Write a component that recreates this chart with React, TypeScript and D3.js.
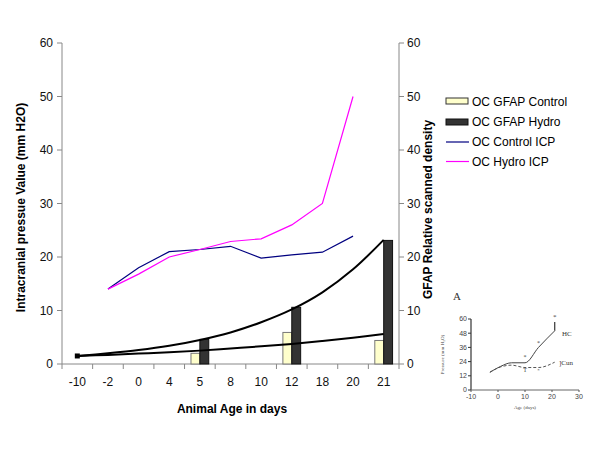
import React from 'react';
import * as d3 from 'd3';

const categories = ['-10', '-2', '0', '4', '5', '8', '10', '12', '18', '20', '21'];
const gfapControl: (number | null)[] = [null, null, null, null, 2.0, null, null, 5.9, null, null, 4.4];
const gfapHydro: (number | null)[] = [null, null, null, null, 4.6, null, null, 10.6, null, null, 23.1];
const controlICP: (number | null)[] = [null, 14, 18, 21, 21.4, 22, 19.8, 20.4, 20.9, 23.9, null];
const hydroICP: (number | null)[] = [null, 14, 16.8, 20, 21.4, 22.9, 23.4, 26, 30, 50, null];
const trendHydro = [1.5, 2.0, 2.6, 3.4, 4.5, 5.9, 7.8, 10.2, 13.4, 17.7, 23.2];
const trendControl = [1.5, 1.7, 1.95, 2.2, 2.5, 2.9, 3.3, 3.75, 4.3, 4.9, 5.6];
const yTicks = [0, 10, 20, 30, 40, 50, 60];
const legendLabels = ['OC GFAP Control', 'OC GFAP Hydro', 'OC Control ICP', 'OC Hydro ICP'];

// inset (panel A)
const insetAgeTicks = [-10, 0, 10, 20, 30];
const insetPressureTicks = [0, 12, 24, 36, 48, 60];
const insetHCAge = [-3, 1, 5, 10, 15, 21];
const insetHC = [15, 20, 23, 23, 36, 50];
const insetCunAge = [-3, 1, 5, 10, 15, 21];
const insetCun = [15, 19.5, 21, 19, 19, 23.5];

const FONT = 'Arial, "Liberation Sans", sans-serif';
const SERIF = '"Liberation Serif", "DejaVu Serif", serif';

export default function App() {
  const x = d3.scaleBand<string>().domain(categories).range([62, 399]).padding(0);
  const y = d3.scaleLinear().domain([0, 60]).range([364, 43]);
  const bw = x.bandwidth();
  const barW = bw * 0.29;
  const cx = (i: number) => (x(categories[i]) as number) + bw / 2;

  const line = d3
    .line<number | null>()
    .defined((d) => d != null)
    .x((_, i) => cx(i))
    .y((d) => y(d as number));
  const smooth = d3
    .line<number>()
    .x((_, i) => cx(i))
    .y((d) => y(d))
    .curve(d3.curveCatmullRom);

  const xi = d3.scaleLinear().domain([-10, 30]).range([471, 579]);
  const yi = d3.scaleLinear().domain([0, 60]).range([390, 319]);
  const insetLine = (ages: number[], vals: number[]) =>
    d3
      .line<number>()
      .x((_, i) => xi(ages[i]))
      .y((d) => yi(d))
      .curve(d3.curveMonotoneX)(vals) as string;

  return (
    <svg width={600} height={450} style={{ position: 'absolute', left: 0, top: 0, background: '#fff' }}>
      <rect width={600} height={450} fill="#fff" />
      {/* axes */}
      <line x1={62} x2={62} y1={y(60)} y2={y(0)} stroke="#888" />
      <line x1={399} x2={399} y1={y(60)} y2={y(0)} stroke="#888" />
      <line x1={62} x2={399} y1={y(0)} y2={y(0)} stroke="#888" />
      {yTicks.map((t) => (
        <g key={t}>
          <line x1={57} x2={62} y1={y(t)} y2={y(t)} stroke="#888" />
          <line x1={399} x2={404} y1={y(t)} y2={y(t)} stroke="#888" />
          <text x={53} y={y(t)} dy="0.35em" textAnchor="end" fontSize={12} fontFamily={FONT} fill="#111">
            {t}
          </text>
          <text x={407} y={y(t)} dy="0.35em" textAnchor="start" fontSize={12} fontFamily={FONT} fill="#111">
            {t}
          </text>
        </g>
      ))}
      {categories.map((c, i) => (
        <g key={c}>
          <line x1={x(c) as number} x2={x(c) as number} y1={y(0)} y2={y(0) + 5} stroke="#888" />
          <text x={cx(i)} y={382} dy="0.35em" textAnchor="middle" fontSize={12} fontFamily={FONT} fill="#111">
            {c}
          </text>
        </g>
      ))}
      <line x1={399} x2={399} y1={y(0)} y2={y(0) + 5} stroke="#888" />

      {/* bars */}
      {categories.map((c, i) => (
        <g key={'b' + c}>
          {gfapControl[i] != null && (
            <rect
              x={cx(i) - barW}
              y={y(gfapControl[i] as number)}
              width={barW}
              height={y(0) - y(gfapControl[i] as number)}
              fill="#FFFFCC"
              stroke="#777"
              strokeWidth={1}
            />
          )}
          {gfapHydro[i] != null && (
            <rect
              x={cx(i)}
              y={y(gfapHydro[i] as number)}
              width={barW}
              height={y(0) - y(gfapHydro[i] as number)}
              fill="#333333"
              stroke="#111"
              strokeWidth={1}
            />
          )}
        </g>
      ))}

      {/* trend lines */}
      <path d={smooth(trendControl) as string} fill="none" stroke="#000" strokeWidth={2} />
      <path d={smooth(trendHydro) as string} fill="none" stroke="#000" strokeWidth={2} />
      <rect x={cx(0) - 2.5} y={y(trendHydro[0]) - 2.5} width={5} height={5} fill="#000" />

      {/* ICP lines */}
      <path d={line(controlICP) as string} fill="none" stroke="#000080" strokeWidth={1.2} />
      <path d={line(hydroICP) as string} fill="none" stroke="#FF00FF" strokeWidth={1.2} />

      {/* axis titles */}
      <text
        transform={`translate(24.5,${(y(0) + y(60)) / 2 + 4}) rotate(-90)`}
        textAnchor="middle"
        fontSize={12}
        fontWeight="bold"
        fontFamily={FONT}
        fill="#000"
      >
        Intracranial pressue Value (mm H2O)
      </text>
      <text
        transform={`translate(432,${(y(0) + y(60)) / 2 + 6}) rotate(-90)`}
        textAnchor="middle"
        fontSize={12}
        fontWeight="bold"
        fontFamily={FONT}
        fill="#000"
      >
        GFAP Relative scanned density
      </text>
      <text x={232} y={413} textAnchor="middle" fontSize={12} fontWeight="bold" fontFamily={FONT} fill="#000">
        Animal Age in days
      </text>

      {/* legend */}
      <g fontFamily={FONT} fontSize={12} fill="#000">
        <rect x={446} y={98} width={22} height={6} fill="#FFFFCC" stroke="#333" />
        <rect x={446} y={119} width={22} height={6} fill="#333333" stroke="#111" />
        <line x1={446} x2={469} y1={142} y2={142} stroke="#000080" strokeWidth={1.2} />
        <line x1={446} x2={469} y1={161.5} y2={161.5} stroke="#FF00FF" strokeWidth={1.2} />
        {legendLabels.map((l, i) => (
          <text key={l} x={472} y={[101.5, 122, 141.7, 161.7][i]} dy="0.35em">
            {l}
          </text>
        ))}
      </g>

      {/* inset panel A */}
      <g fontFamily={SERIF} fill="#444">
        <text x={453} y={300} fontSize={11} fill="#333">
          A
        </text>
        <line x1={471} x2={471} y1={yi(60)} y2={yi(0)} stroke="#333" strokeWidth={1.2} />
        <line x1={471} x2={579} y1={yi(0)} y2={yi(0)} stroke="#666" strokeWidth={1} />
        {insetPressureTicks.map((t) => (
          <g key={'ip' + t}>
            <line x1={468} x2={471} y1={yi(t)} y2={yi(t)} stroke="#333" />
            <text x={467} y={yi(t)} dy="0.35em" textAnchor="end" fontSize={7} fontFamily={FONT}>
              {t}
            </text>
          </g>
        ))}
        {insetAgeTicks.map((t) => (
          <g key={'ia' + t}>
            <line x1={xi(t)} x2={xi(t)} y1={yi(0)} y2={yi(0) + 2} stroke="#555" />
            <text x={xi(t)} y={yi(0) + 7} dy="0.35em" textAnchor="middle" fontSize={7} fontFamily={FONT}>
              {t}
            </text>
          </g>
        ))}
        <text x={xi(10)} y={409} textAnchor="middle" fontSize={5}>
          Age (days)
        </text>
        <text transform={`translate(444,${yi(30)}) rotate(-90)`} textAnchor="middle" fontSize={5}>
          Pressure (mm H₂O)
        </text>
        <path d={insetLine(insetHCAge, insetHC)} fill="none" stroke="#444" strokeWidth={1} />
        <path d={insetLine(insetCunAge, insetCun)} fill="none" stroke="#555" strokeWidth={1} strokeDasharray="3,2" />
        <line x1={xi(21)} x2={xi(21)} y1={yi(50)} y2={yi(57.5)} stroke="#444" strokeWidth={1.3} />
        <text x={xi(21)} y={yi(60)} textAnchor="middle" fontSize={7}>
          *
        </text>
        <text x={xi(10)} y={yi(26)} textAnchor="middle" fontSize={6}>
          *
        </text>
        <text x={xi(15)} y={yi(38)} textAnchor="middle" fontSize={6}>
          *
        </text>
        <text x={xi(10)} y={yi(15.5)} textAnchor="middle" fontSize={6}>
          T
        </text>
        <text x={xi(15)} y={yi(15.5)} textAnchor="middle" fontSize={5}>
          *
        </text>
        <text x={562} y={yi(48)} dy="0.35em" fontSize={7} fill="#333">
          HC
        </text>
        <text x={559} y={yi(23)} dy="0.35em" fontSize={7} fill="#333">
          ]Cun
        </text>
      </g>
    </svg>
  );
}
